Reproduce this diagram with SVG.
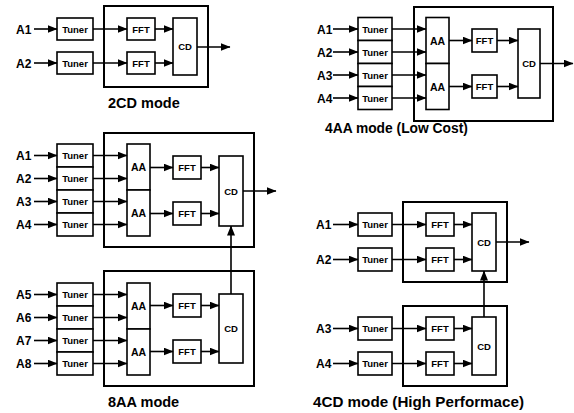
<svg xmlns="http://www.w3.org/2000/svg" width="574" height="413" viewBox="0 0 574 413">
<style>
  text { font-family: "Liberation Sans", Arial, sans-serif; font-weight: bold; fill: #000; }
  .lbl { font-size: 12px; }
  .t { font-size: 9.5px; text-anchor: middle; }
  .aa { font-size: 10.5px; text-anchor: middle; }
  .cap { font-size: 14.5px; }
  .box { fill: #fff; stroke: #000; stroke-width: 1.6; }
  .outer { fill: #fff; stroke: #000; stroke-width: 2; }
  .c line { stroke: #000; stroke-width: 1.6; marker-end: url(#ah); }
  .c line.plain { marker-end: none; }
</style>
<defs>
  <marker id="ah" markerUnits="userSpaceOnUse" markerWidth="10" markerHeight="8" viewBox="0 0 10 8" refX="9.5" refY="4" orient="auto">
    <path d="M0,0 L10,4 L0,8 z" fill="#000"/>
  </marker>
</defs>
<rect width="574" height="413" fill="#fff"/>

<!-- ===== 2CD mode ===== -->
<g id="m2cd-outer"><rect class="outer" x="104" y="6" width="104" height="81"/></g>
<g id="m2cd-a1"><text class="lbl" x="16" y="33.5">A1</text></g>
<g id="m2cd-a2"><text class="lbl" x="16" y="67.5">A2</text></g>
<g id="m2cd-tuner1"><rect class="box" x="57" y="18" width="36" height="22"/><text class="t" x="75" y="32.5">Tuner</text></g>
<g id="m2cd-tuner2"><rect class="box" x="57" y="52" width="36" height="22"/><text class="t" x="75" y="66.5">Tuner</text></g>
<g id="m2cd-fft1"><rect class="box" x="127" y="18" width="28" height="22"/><text class="t" x="141" y="32.5">FFT</text></g>
<g id="m2cd-fft2"><rect class="box" x="127" y="52" width="28" height="22"/><text class="t" x="141" y="66.5">FFT</text></g>
<g id="m2cd-cd"><rect class="box" x="173" y="18" width="24" height="57"/><text class="t" x="185" y="50">CD</text></g>
<g id="m2cd-caption"><text class="cap" x="108" y="108">2CD mode</text></g>

<!-- ===== 4AA mode ===== -->
<g id="m4aa-outer"><rect class="outer" x="414" y="7" width="139" height="114"/></g>
<g id="m4aa-a1"><text class="lbl" x="317" y="33.5">A1</text></g>
<g id="m4aa-a2"><text class="lbl" x="317" y="56.5">A2</text></g>
<g id="m4aa-a3"><text class="lbl" x="317" y="79.5">A3</text></g>
<g id="m4aa-a4"><text class="lbl" x="317" y="102.5">A4</text></g>
<g id="m4aa-tuner1"><rect class="box" x="358" y="17.5" width="34" height="23"/><text class="t" x="375" y="32.5">Tuner</text></g>
<g id="m4aa-tuner2"><rect class="box" x="358" y="40.5" width="34" height="23"/><text class="t" x="375" y="55.5">Tuner</text></g>
<g id="m4aa-tuner3"><rect class="box" x="358" y="63.5" width="34" height="23"/><text class="t" x="375" y="78.5">Tuner</text></g>
<g id="m4aa-tuner4"><rect class="box" x="358" y="86.5" width="34" height="23"/><text class="t" x="375" y="101.5">Tuner</text></g>
<g id="m4aa-aa1"><rect class="box" x="426" y="17.5" width="23" height="46"/><text class="aa" x="437.5" y="44.5">AA</text></g>
<g id="m4aa-aa2"><rect class="box" x="426" y="63.5" width="23" height="46"/><text class="aa" x="437.5" y="90.5">AA</text></g>
<g id="m4aa-fft1"><rect class="box" x="472" y="29" width="25" height="23"/><text class="t" x="484.5" y="44">FFT</text></g>
<g id="m4aa-fft2"><rect class="box" x="472" y="75" width="25" height="23"/><text class="t" x="484.5" y="90">FFT</text></g>
<g id="m4aa-cd"><rect class="box" x="518" y="29" width="22" height="69"/><text class="t" x="529" y="67">CD</text></g>
<g id="m4aa-caption"><text class="cap" x="325" y="133" style="font-size:13.8px">4AA mode (Low Cost)</text></g>

<!-- ===== 8AA mode (upper) ===== -->
<g id="m8aa-outer1"><rect class="outer" x="104" y="133" width="150" height="114"/></g>
<g id="m8aa-a1"><text class="lbl" x="16" y="160">A1</text></g>
<g id="m8aa-a2"><text class="lbl" x="16" y="183">A2</text></g>
<g id="m8aa-a3"><text class="lbl" x="16" y="206">A3</text></g>
<g id="m8aa-a4"><text class="lbl" x="16" y="229">A4</text></g>
<g id="m8aa-tuner1"><rect class="box" x="57" y="144" width="36" height="23"/><text class="t" x="75" y="159">Tuner</text></g>
<g id="m8aa-tuner2"><rect class="box" x="57" y="167" width="36" height="23"/><text class="t" x="75" y="182">Tuner</text></g>
<g id="m8aa-tuner3"><rect class="box" x="57" y="190" width="36" height="23"/><text class="t" x="75" y="205">Tuner</text></g>
<g id="m8aa-tuner4"><rect class="box" x="57" y="213" width="36" height="23"/><text class="t" x="75" y="228">Tuner</text></g>
<g id="m8aa-aa1"><rect class="box" x="127" y="144" width="23" height="46"/><text class="aa" x="138.5" y="171">AA</text></g>
<g id="m8aa-aa2"><rect class="box" x="127" y="190" width="23" height="46"/><text class="aa" x="138.5" y="217">AA</text></g>
<g id="m8aa-fft1"><rect class="box" x="173" y="156" width="28" height="23"/><text class="t" x="187" y="171">FFT</text></g>
<g id="m8aa-fft2"><rect class="box" x="173" y="202" width="28" height="23"/><text class="t" x="187" y="217">FFT</text></g>
<g id="m8aa-cd1"><rect class="box" x="219" y="156" width="24" height="70"/><text class="t" x="231" y="194.5">CD</text></g>

<!-- ===== 8AA mode (lower) ===== -->
<g id="m8aa-outer2"><rect class="outer" x="104" y="271" width="150" height="115"/></g>
<g id="m8aa-a5"><text class="lbl" x="16" y="299">A5</text></g>
<g id="m8aa-a6"><text class="lbl" x="16" y="322">A6</text></g>
<g id="m8aa-a7"><text class="lbl" x="16" y="345">A7</text></g>
<g id="m8aa-a8"><text class="lbl" x="16" y="368">A8</text></g>
<g id="m8aa-tuner5"><rect class="box" x="57" y="283" width="36" height="23"/><text class="t" x="75" y="298">Tuner</text></g>
<g id="m8aa-tuner6"><rect class="box" x="57" y="306" width="36" height="23"/><text class="t" x="75" y="321">Tuner</text></g>
<g id="m8aa-tuner7"><rect class="box" x="57" y="329" width="36" height="23"/><text class="t" x="75" y="344">Tuner</text></g>
<g id="m8aa-tuner8"><rect class="box" x="57" y="352" width="36" height="23"/><text class="t" x="75" y="367">Tuner</text></g>
<g id="m8aa-aa3"><rect class="box" x="127" y="283" width="23" height="46"/><text class="aa" x="138.5" y="310">AA</text></g>
<g id="m8aa-aa4"><rect class="box" x="127" y="329" width="23" height="46"/><text class="aa" x="138.5" y="356">AA</text></g>
<g id="m8aa-fft3"><rect class="box" x="173" y="294" width="28" height="23"/><text class="t" x="187" y="309">FFT</text></g>
<g id="m8aa-fft4"><rect class="box" x="173" y="340" width="28" height="23"/><text class="t" x="187" y="355">FFT</text></g>
<g id="m8aa-cd2"><rect class="box" x="219" y="294" width="24" height="69"/><text class="t" x="231" y="332">CD</text></g>
<g id="m8aa-caption"><text class="cap" x="108" y="407">8AA mode</text></g>

<!-- ===== 4CD mode ===== -->
<g id="m4cd-outer1"><rect class="outer" x="403" y="202" width="104" height="80"/></g>
<g id="m4cd-outer2"><rect class="outer" x="403" y="306" width="104" height="80"/></g>
<g id="m4cd-a1"><text class="lbl" x="316" y="229">A1</text></g>
<g id="m4cd-a2"><text class="lbl" x="316" y="264">A2</text></g>
<g id="m4cd-a3"><text class="lbl" x="316" y="333">A3</text></g>
<g id="m4cd-a4"><text class="lbl" x="316" y="368">A4</text></g>
<g id="m4cd-tuner1"><rect class="box" x="358" y="213" width="34" height="23"/><text class="t" x="375" y="228">Tuner</text></g>
<g id="m4cd-tuner2"><rect class="box" x="358" y="248" width="34" height="23"/><text class="t" x="375" y="263">Tuner</text></g>
<g id="m4cd-tuner3"><rect class="box" x="358" y="317" width="34" height="23"/><text class="t" x="375" y="332">Tuner</text></g>
<g id="m4cd-tuner4"><rect class="box" x="358" y="352" width="34" height="23"/><text class="t" x="375" y="367">Tuner</text></g>
<g id="m4cd-fft1"><rect class="box" x="426" y="213" width="28" height="23"/><text class="t" x="440" y="228">FFT</text></g>
<g id="m4cd-fft2"><rect class="box" x="426" y="248" width="28" height="23"/><text class="t" x="440" y="263">FFT</text></g>
<g id="m4cd-fft3"><rect class="box" x="426" y="317" width="28" height="23"/><text class="t" x="440" y="332">FFT</text></g>
<g id="m4cd-fft4"><rect class="box" x="426" y="352" width="28" height="23"/><text class="t" x="440" y="367">FFT</text></g>
<g id="m4cd-cd1"><rect class="box" x="472" y="213" width="24" height="58"/><text class="t" x="484" y="245.5">CD</text></g>
<g id="m4cd-cd2"><rect class="box" x="472" y="317" width="24" height="58"/><text class="t" x="484" y="349.5">CD</text></g>
<g id="m4cd-caption"><text class="cap" x="313" y="407" style="font-size:15.2px">4CD mode (High Performace)</text></g>

<!-- ===== connectors ===== -->
<g id="connectors" class="c">
  <!-- 2CD -->
  <line x1="34" y1="29" x2="57" y2="29"/>
  <line x1="34" y1="63" x2="57" y2="63"/>
  <line x1="93" y1="29" x2="127" y2="29"/>
  <line x1="93" y1="63" x2="127" y2="63"/>
  <line x1="155" y1="29" x2="173" y2="29"/>
  <line x1="155" y1="63" x2="173" y2="63"/>
  <line x1="197" y1="47" x2="230" y2="47"/>
  <!-- 4AA -->
  <line x1="333" y1="29" x2="358" y2="29"/>
  <line x1="333" y1="52" x2="358" y2="52"/>
  <line x1="333" y1="75" x2="358" y2="75"/>
  <line x1="333" y1="98" x2="358" y2="98"/>
  <line x1="392" y1="29" x2="426" y2="29"/>
  <line x1="392" y1="52" x2="426" y2="52"/>
  <line x1="392" y1="75" x2="426" y2="75"/>
  <line x1="392" y1="98" x2="426" y2="98"/>
  <line x1="449" y1="40.5" x2="472" y2="40.5"/>
  <line x1="449" y1="86.5" x2="472" y2="86.5"/>
  <line x1="497" y1="40.5" x2="518" y2="40.5"/>
  <line x1="497" y1="86.5" x2="518" y2="86.5"/>
  <line x1="540" y1="63.5" x2="573" y2="63.5"/>
  <!-- 8AA upper -->
  <line x1="34" y1="155.5" x2="57" y2="155.5"/>
  <line x1="34" y1="178.5" x2="57" y2="178.5"/>
  <line x1="34" y1="201.5" x2="57" y2="201.5"/>
  <line x1="34" y1="224.5" x2="57" y2="224.5"/>
  <line x1="93" y1="155.5" x2="127" y2="155.5"/>
  <line x1="93" y1="178.5" x2="127" y2="178.5"/>
  <line x1="93" y1="201.5" x2="127" y2="201.5"/>
  <line x1="93" y1="224.5" x2="127" y2="224.5"/>
  <line x1="150" y1="167.5" x2="173" y2="167.5"/>
  <line x1="150" y1="213.5" x2="173" y2="213.5"/>
  <line x1="201" y1="167.5" x2="219" y2="167.5"/>
  <line x1="201" y1="213.5" x2="219" y2="213.5"/>
  <line x1="243" y1="191" x2="276" y2="191"/>
  <!-- 8AA lower -->
  <line x1="34" y1="294.5" x2="57" y2="294.5"/>
  <line x1="34" y1="317.5" x2="57" y2="317.5"/>
  <line x1="34" y1="340.5" x2="57" y2="340.5"/>
  <line x1="34" y1="363.5" x2="57" y2="363.5"/>
  <line x1="93" y1="294.5" x2="127" y2="294.5"/>
  <line x1="93" y1="317.5" x2="127" y2="317.5"/>
  <line x1="93" y1="340.5" x2="127" y2="340.5"/>
  <line x1="93" y1="363.5" x2="127" y2="363.5"/>
  <line x1="150" y1="305.5" x2="173" y2="305.5"/>
  <line x1="150" y1="351.5" x2="173" y2="351.5"/>
  <line x1="201" y1="305.5" x2="219" y2="305.5"/>
  <line x1="201" y1="351.5" x2="219" y2="351.5"/>
  <line x1="231" y1="294" x2="231" y2="226"/>
  <!-- 4CD -->
  <line x1="333" y1="224.5" x2="358" y2="224.5"/>
  <line x1="333" y1="259.5" x2="358" y2="259.5"/>
  <line x1="333" y1="328.5" x2="358" y2="328.5"/>
  <line x1="333" y1="363.5" x2="358" y2="363.5"/>
  <line x1="392" y1="224.5" x2="426" y2="224.5"/>
  <line x1="392" y1="259.5" x2="426" y2="259.5"/>
  <line x1="392" y1="328.5" x2="426" y2="328.5"/>
  <line x1="392" y1="363.5" x2="426" y2="363.5"/>
  <line x1="454" y1="224.5" x2="472" y2="224.5"/>
  <line x1="454" y1="259.5" x2="472" y2="259.5"/>
  <line x1="454" y1="328.5" x2="472" y2="328.5"/>
  <line x1="454" y1="363.5" x2="472" y2="363.5"/>
  <line x1="496" y1="242" x2="529" y2="242"/>
  <line x1="484" y1="317" x2="484" y2="271"/>
</g>
</svg>
